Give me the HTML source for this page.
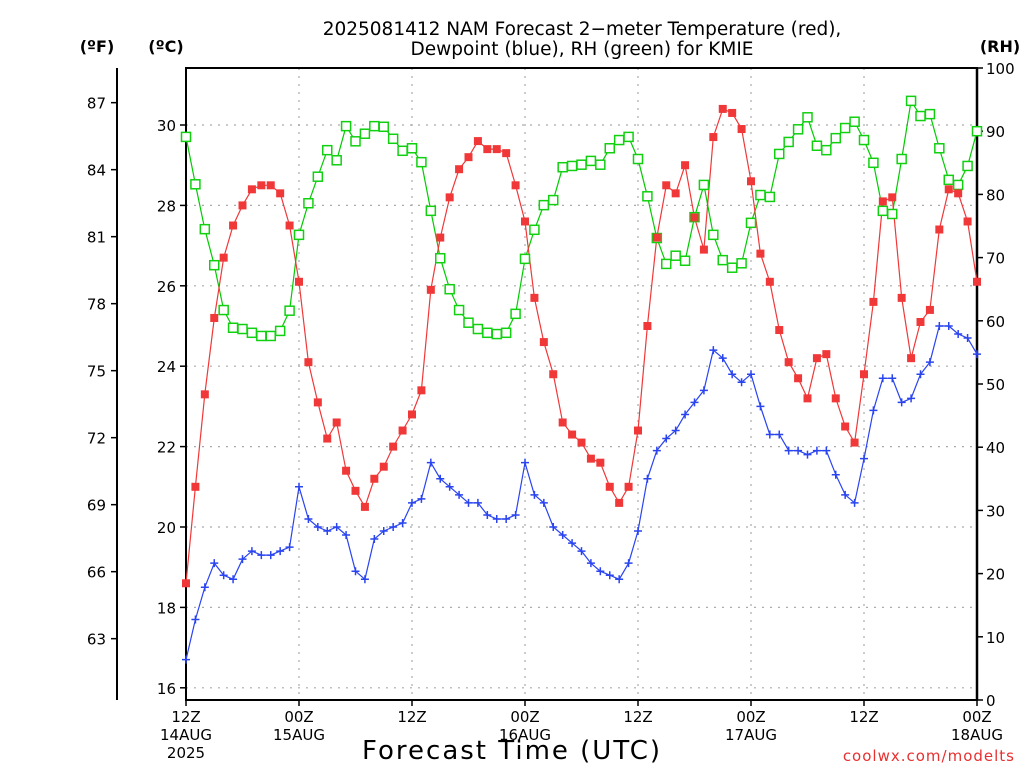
<!DOCTYPE html>
<html><head><meta charset="utf-8">
<style>
body{margin:0;background:#fff;}
svg{display:block;font-family:"DejaVu Sans","Liberation Sans",sans-serif;}
</style></head>
<body>
<svg id="chart" width="1024" height="768" viewBox="0 0 1024 768" xmlns="http://www.w3.org/2000/svg">
<rect width="1024" height="768" fill="#fff"/>
<text x="582" y="35" font-size="18.5" text-anchor="middle">2025081412 NAM Forecast 2−meter Temperature (red),</text>
<text x="582" y="55" font-size="18.5" text-anchor="middle">Dewpoint (blue), RH (green) for KMIE</text>
<text x="97" y="52" font-size="16" font-weight="bold" text-anchor="middle">(ºF)</text>
<text x="166" y="52" font-size="16" font-weight="bold" text-anchor="middle">(ºC)</text>
<text x="1000" y="52" font-size="16" font-weight="bold" text-anchor="middle">(RH)</text>
<g id="grid"></g>
<g id="axes"></g>
<g id="series"></g>
<text x="512" y="759" font-size="26" letter-spacing="2" text-anchor="middle">Forecast Time (UTC)</text>
<text x="1015" y="761" font-size="15" fill="#e83030" text-anchor="end" letter-spacing="1">coolwx.com/modelts</text>
</svg>
<script>
const tempC=[18.6,21.0,23.3,25.2,26.7,27.5,28.0,28.4,28.5,28.5,28.3,27.5,26.1,24.1,23.1,22.2,22.6,21.4,20.9,20.5,21.2,21.5,22.0,22.4,22.8,23.4,25.9,27.2,28.2,28.9,29.2,29.6,29.4,29.4,29.3,28.5,27.6,25.7,24.6,23.8,22.6,22.3,22.1,21.7,21.6,21.0,20.6,21.0,22.4,25.0,27.2,28.5,28.3,29.0,27.7,26.9,29.7,30.4,30.3,29.9,28.6,26.8,26.1,24.9,24.1,23.7,23.2,24.2,24.3,23.2,22.5,22.1,23.8,25.6,28.1,28.2,25.7,24.2,25.1,25.4,27.4,28.4,28.3,27.6,26.1];
const dewC=[16.7,17.7,18.5,19.1,18.8,18.7,19.2,19.4,19.3,19.3,19.4,19.5,21.0,20.2,20.0,19.9,20.0,19.8,18.9,18.7,19.7,19.9,20.0,20.1,20.6,20.7,21.6,21.2,21.0,20.8,20.6,20.6,20.3,20.2,20.2,20.3,21.6,20.8,20.6,20.0,19.8,19.6,19.4,19.1,18.9,18.8,18.7,19.1,19.9,21.2,21.9,22.2,22.4,22.8,23.1,23.4,24.4,24.2,23.8,23.6,23.8,23.0,22.3,22.3,21.9,21.9,21.8,21.9,21.9,21.3,20.8,20.6,21.7,22.9,23.7,23.7,23.1,23.2,23.8,24.1,25.0,25.0,24.8,24.7,24.3];
const rhPct=[89.1,81.6,74.5,68.8,61.7,58.9,58.7,58.1,57.6,57.6,58.4,61.6,73.6,78.6,82.8,87.0,85.4,90.8,88.4,89.6,90.8,90.7,88.8,86.9,87.3,85.1,77.4,69.9,65.0,61.7,59.7,58.7,58.1,57.9,58.1,61.1,69.8,74.4,78.3,79.1,84.3,84.5,84.7,85.3,84.7,87.3,88.6,89.1,85.6,79.7,73.1,69.0,70.3,69.5,76.4,81.5,73.6,69.6,68.4,69.1,75.5,79.9,79.6,86.4,88.3,90.3,92.2,87.7,87.0,88.9,90.5,91.5,88.6,85.0,77.4,76.9,85.6,94.8,92.4,92.7,87.3,82.3,81.5,84.5,90.0];
const cTicks=[16,18,20,22,24,26,28,30];
const fTicks=[63,66,69,72,75,78,81,84,87];
const rhTicks=[0,10,20,30,40,50,60,70,80,90,100];
const xTickHours=[0,12,24,36,48,60,72,84];
const xTickLabels=[["12Z","14AUG","2025"],["00Z","15AUG"],["12Z"],["00Z","16AUG"],["12Z"],["00Z","17AUG"],["12Z"],["00Z","18AUG"]];

const X0=186,X1=977,Y0=68,Y1=700;
const xH=h=>X0+h*(X1-X0)/84;
const yC=c=>125+(30-c)*40.2;
const yF=f=>yC((f-32)*5/9);
const yRH=r=>Y1-r*(Y1-Y0)/100;
const NS="http://www.w3.org/2000/svg";
function mk(tag,attrs,parent){const e=document.createElementNS(NS,tag);for(const k in attrs)e.setAttribute(k,attrs[k]);parent.appendChild(e);return e;}
const grid=document.getElementById('grid'),axes=document.getElementById('axes'),ser=document.getElementById('series');

cTicks.forEach(c=>{
  const g=mk('line',{x1:X0,x2:X1,y1:yC(c),y2:yC(c),stroke:'#aaa','stroke-width':1.2,'stroke-dasharray':'2 6'},grid);
  
  
  const t=mk('line',{x1:X0-6,x2:X0,y1:yC(c),y2:yC(c),stroke:'#000','stroke-width':1.5},axes);
  
  
  const l=mk('text',{x:176,y:yC(c)+6,'font-size':15,'text-anchor':'end'},axes);
  l.textContent=c;
  
  
});
xTickHours.forEach((h,i)=>{
  if(h>0&&h<84){
    const g=mk('line',{x1:xH(h),x2:xH(h),y1:Y0,y2:Y1,stroke:'#aaa','stroke-width':1.2,'stroke-dasharray':'2 6'},grid);
    
    
  }
  const t=mk('line',{x1:xH(h),x2:xH(h),y1:Y1,y2:Y1+6,stroke:'#000','stroke-width':1.5},axes);
  
  
  xTickLabels[i].forEach((s,j)=>{
    const l=mk('text',{x:xH(h),y:722+j*18,'font-size':15,'text-anchor':'middle'},axes);
    l.textContent=s;
    
    
  });
});
fTicks.forEach(f=>{
  const t=mk('line',{x1:111,x2:117,y1:yF(f),y2:yF(f),stroke:'#000','stroke-width':1.5},axes);
  
  
  const l=mk('text',{x:106,y:yF(f)+6,'font-size':15,'text-anchor':'end'},axes);
  l.textContent=f;
  
  
});
rhTicks.forEach(r=>{
  const t=mk('line',{x1:X1,x2:X1+6,y1:yRH(r),y2:yRH(r),stroke:'#000','stroke-width':1.5},axes);
  
  
  const l=mk('text',{x:986,y:yRH(r)+6,'font-size':15,'text-anchor':'start'},axes);
  l.textContent=r;
  
  
});
const fa=mk('line',{x1:117,x2:117,y1:Y0,y2:Y1,stroke:'#000','stroke-width':2},axes);


const fr=mk('rect',{x:X0,y:Y0,width:X1-X0,height:Y1-Y0,fill:'none',stroke:'#000','stroke-width':2},axes);


const ra=mk('line',{x1:X1,x2:X1,y1:Y0,y2:Y1,stroke:'#000','stroke-width':2.5},axes);



function drawLine(vals,yf,color,name){
  const pts=vals.map((v,i)=>xH(i).toFixed(1)+','+yf(v).toFixed(1)).join(' ');
  const p=mk('polyline',{points:pts,fill:'none',stroke:color,'stroke-width':1.2},ser);
  
  
}
drawLine(rhPct,yRH,'#00cc00','rh-line');
drawLine(tempC,yC,'#f03838','temperature-line');
drawLine(dewC,yC,'#2a44f0','dewpoint-line');
rhPct.forEach((v,i)=>{
  const m=mk('rect',{x:xH(i)-4.5,y:yRH(v)-4.5,width:9,height:9,fill:'#fff',stroke:'#10d010','stroke-width':1.5},ser);
  
  
});
tempC.forEach((v,i)=>{
  const m=mk('rect',{x:xH(i)-4,y:yC(v)-4,width:8,height:8,fill:'#f03838'},ser);
  
  
});
dewC.forEach((v,i)=>{
  const x=xH(i),y=yC(v);
  const m=mk('path',{d:`M${x-4},${y}H${x+4}M${x},${y-4}V${y+4}`,stroke:'#2a44f0','stroke-width':1.5},ser);
  
  
});
</script>
</body></html>
